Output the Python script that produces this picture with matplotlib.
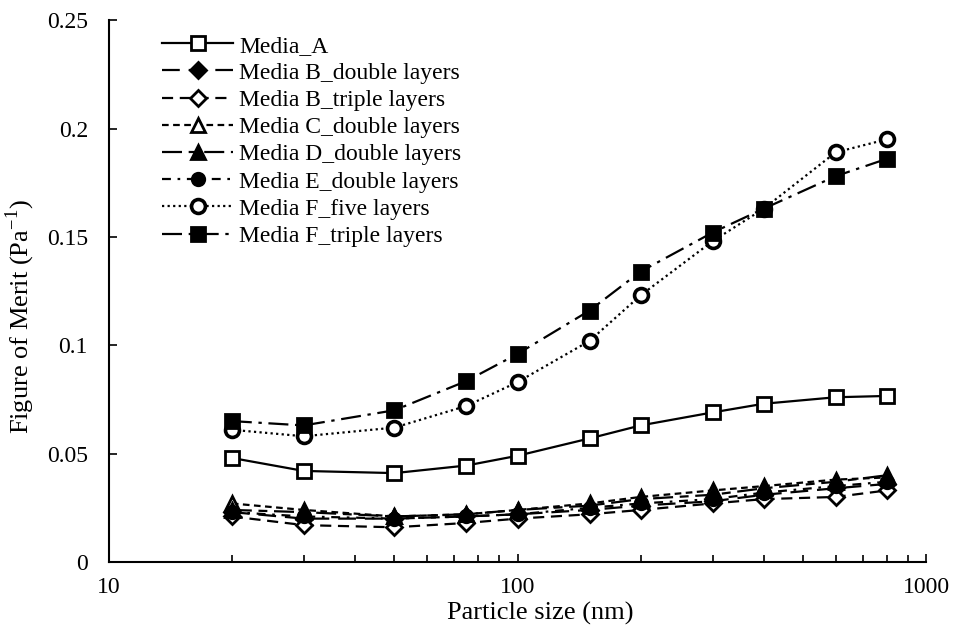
import matplotlib
matplotlib.use("Agg")
import matplotlib.pyplot as plt
from matplotlib.ticker import NullFormatter, LogLocator

plt.rcParams['font.family'] = ['Liberation Serif', 'DejaVu Serif']
plt.rcParams['mathtext.fontset'] = 'custom'
plt.rcParams['mathtext.rm'] = 'Liberation Serif'

particle_size = [20, 30, 50, 75, 100, 150, 200, 300, 400, 600, 800]

media_a = [0.048, 0.042, 0.041, 0.0445, 0.049, 0.057, 0.063, 0.069, 0.073, 0.076, 0.0766]
media_b_double = [0.023, 0.020, 0.020, 0.021, 0.022, 0.024, 0.026, 0.028, 0.031, 0.034, 0.036]
media_b_triple = [0.021, 0.017, 0.016, 0.018, 0.020, 0.022, 0.024, 0.027, 0.029, 0.030, 0.033]
media_c_double = [0.027, 0.024, 0.021, 0.022, 0.024, 0.027, 0.030, 0.033, 0.035, 0.038, 0.039]
media_d_double = [0.024, 0.023, 0.021, 0.022, 0.024, 0.026, 0.029, 0.031, 0.034, 0.037, 0.040]
media_e_double = [0.023, 0.021, 0.020, 0.021, 0.022, 0.025, 0.027, 0.029, 0.032, 0.035, 0.037]
media_f_five = [0.061, 0.058, 0.062, 0.072, 0.083, 0.102, 0.123, 0.148, 0.163, 0.189, 0.195]
media_f_triple = [0.065, 0.063, 0.070, 0.0835, 0.096, 0.116, 0.134, 0.152, 0.163, 0.178, 0.186]

labels = ["Media_A", "Media B_double layers", "Media B_triple layers",
          "Media C_double layers", "Media D_double layers", "Media E_double layers",
          "Media F_five layers", "Media F_triple layers"]

series = [media_a, media_b_double, media_b_triple, media_c_double,
          media_d_double, media_e_double, media_f_five, media_f_triple]

styles = [
    dict(ls='-', marker='s', mfc='white'),
    dict(ls=(0, (8, 4)), marker='D', mfc='black', ms=8),
    dict(ls=(0, (5, 3)), marker='D', mfc='white', ms=8),
    dict(ls=(0, (3, 2)), marker='^', mfc='white'),
    dict(ls=(0, (9, 3, 4, 3)), marker='^', mfc='black'),
    dict(ls=(0, (4, 3, 1.2, 3)), marker='o', mfc='black', ms=9),
    dict(ls=(0, (1, 1.5)), marker='o', mfc='white', mew=2.6),
    dict(ls=(0, (9, 3, 1.5, 3)), marker='s', mfc='black'),
]

fig = plt.figure(figsize=(9.54, 6.3), dpi=100)
ax = fig.add_axes([0.114, 0.108, 0.857, 0.860])

for y, lab, st in zip(series, labels, styles):
    ms = st.pop('ms', 10)
    mew = st.pop('mew', 2)
    ax.plot(particle_size, y, color='black', lw=1.6, mec='black', mew=mew,
            ms=ms, label=lab, **st)

ax.set_xscale('log')
ax.set_xlim(10, 1000)
ax.set_ylim(0, 0.25)
ax.set_yticks([0, 0.05, 0.1, 0.15, 0.2, 0.25])
ax.set_yticklabels(['0', '0.05', '0.1', '0.15', '0.2', '0.25'])
ax.set_xticks([10, 100, 1000])
ax.set_xticklabels(['10', '100', '1000'])
ax.xaxis.set_minor_locator(LogLocator(base=10, subs=range(2, 10)))
ax.xaxis.set_minor_formatter(NullFormatter())

for s in ['top', 'right']:
    ax.spines[s].set_visible(False)
for s in ['left', 'bottom']:
    ax.spines[s].set_linewidth(1.5)

ax.tick_params(axis='both', which='major', direction='in', length=6, width=1.2,
               labelsize=17)
ax.tick_params(axis='y', which='major', pad=15)
ax.tick_params(axis='x', which='major', pad=11)
ax.tick_params(axis='x', which='minor', direction='in', length=5, width=1.2)

ax.set_xlabel('Particle size (nm)', fontsize=19)
ax.set_ylabel('Figure of Merit (Pa$^{\\mathrm{-1}}$)', fontsize=19)
ax.xaxis.set_label_coords(0.528, -0.074)
ax.yaxis.set_label_coords(-0.088, 0.452)

leg = ax.legend(loc='upper left', bbox_to_anchor=(0.054, 0.99), frameon=False,
                fontsize=17, handlelength=3.0, handletextpad=0.25,
                labelspacing=0.24, borderaxespad=0)

fig.savefig('out.png', dpi=100)
